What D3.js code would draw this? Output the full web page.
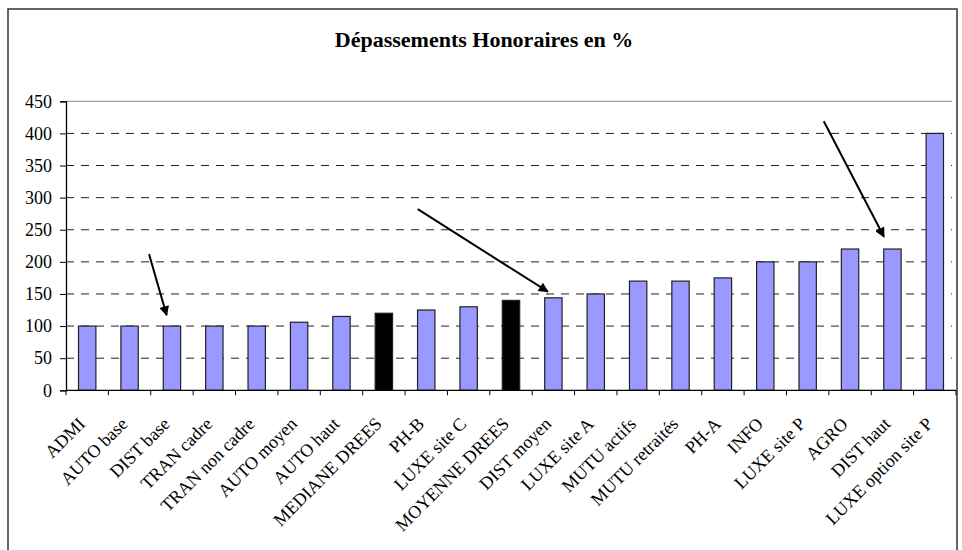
<!DOCTYPE html>
<html lang="fr">
<head>
    <meta charset="UTF-8">
    <title>Dépassements Honoraires en %</title>
    <script src="https://d3js.org/d3.v7.min.js"></script>
    <style>
        body { margin: 0; background: #fff; }
        .grid line { stroke: #222; stroke-dasharray: 8, 7; }
    </style>
</head>
<body>
    <div id="chart"></div>
    <script type="text/javascript">
        // chart data
        const categories = ["ADMI", "AUTO base", "DIST base", "TRAN cadre", "TRAN non cadre",
            "AUTO moyen", "AUTO haut", "MEDIANE DREES", "PH-B", "LUXE site C", "MOYENNE DREES",
            "DIST moyen", "LUXE site A", "MUTU actifs", "MUTU retraités", "PH-A", "INFO",
            "LUXE site P", "AGRO", "DIST haut", "LUXE option site P"];
        const values = [100, 100, 100, 100, 100, 106, 115, 120, 125, 130, 140,
            144, 150, 170, 170, 175, 200, 200, 220, 220, 400];
        const highlighted = ["MEDIANE DREES", "MOYENNE DREES"];
        const yTicks = [0, 50, 100, 150, 200, 250, 300, 350, 400, 450];
        // arrows in data units: [from slot, from value, to slot, to value]
        const arrows = [
            [1.96, 212, 2.375, 117],
            [8.3, 282, 11.37, 153.5],
            [17.88, 419, 19.3, 239]
        ];
        const title = "Dépassements Honoraires en %";

        const serif = '"Liberation Serif", "Times New Roman", "DejaVu Serif", serif';
        const width = 962, height = 550;
        const plot = {left: 66, right: 956, top: 101.3, bottom: 390.3};

        const svg = d3.select("#chart").append("svg")
            .attr("width", width)
            .attr("height", height);

        svg.append("rect")
            .attr("width", width).attr("height", height)
            .attr("fill", "#fff");

        // outer frame
        svg.append("rect")
            .attr("x", 8).attr("y", 9)
            .attr("width", 949).attr("height", 600)
            .attr("fill", "none")
            .attr("stroke", "#333")
            .attr("stroke-width", 1.5);

        svg.append("text")
            .attr("x", 484).attr("y", 47)
            .attr("text-anchor", "middle")
            .style("font-family", serif)
            .style("font-size", "22px")
            .style("font-weight", "bold")
            .text(title);

        const x = d3.scaleBand()
            .domain(categories)
            .range([plot.left, plot.right])
            .paddingInner(0.59)
            .paddingOuter(0.295);
        const slot = d3.scaleLinear().domain([0, categories.length]).range([plot.left, plot.right]);
        const y = d3.scaleLinear().domain([0, 450]).range([plot.bottom, plot.top]);

        // dashed gridlines (top one solid grey)
        svg.append("g")
            .attr("class", "grid")
            .selectAll("line")
            .data(yTicks.filter(d => d > 0))
            .enter().append("line")
            .attr("x1", plot.left).attr("x2", plot.right - 4)
            .attr("y1", d => y(d)).attr("y2", d => y(d))
            .style("stroke", d => d === 450 ? "#888" : null)
            .style("stroke-dasharray", d => d === 450 ? "none" : null);

        // y axis
        const yAxis = svg.append("g")
            .attr("transform", "translate(" + plot.left + ",0)")
            .call(d3.axisLeft(y).tickValues(yTicks).tickSize(6).tickPadding(8).tickFormat(d3.format("d")));
        yAxis.select(".domain").attr("stroke", "#000").attr("stroke-width", 1.3);
        yAxis.selectAll(".tick line").attr("stroke", "#000");
        yAxis.selectAll("text")
            .style("font-family", serif)
            .style("font-size", "18px")
            .style("fill", "#000");

        // bars
        svg.selectAll(".bar")
            .data(categories)
            .enter().append("rect")
            .attr("class", "bar")
            .attr("x", d => x(d))
            .attr("y", (d, i) => y(values[i]))
            .attr("width", x.bandwidth())
            .attr("height", (d, i) => y(0) - y(values[i]))
            .attr("fill", d => highlighted.includes(d) ? "#000" : "#9999ff")
            .attr("stroke", "#222")
            .attr("stroke-width", 1.2);

        // x axis with ticks on category boundaries
        svg.append("line")
            .attr("x1", plot.left).attr("x2", plot.right)
            .attr("y1", y(0)).attr("y2", y(0))
            .attr("stroke", "#000").attr("stroke-width", 1.3);
        svg.selectAll(".xtick")
            .data(d3.range(categories.length + 1))
            .enter().append("line")
            .attr("class", "xtick")
            .attr("x1", d => slot(d)).attr("x2", d => slot(d))
            .attr("y1", y(0)).attr("y2", y(0) + 5)
            .attr("stroke", "#000");

        svg.selectAll(".xlabel")
            .data(categories)
            .enter().append("text")
            .attr("class", "xlabel")
            .attr("text-anchor", "end")
            .attr("transform", d => "translate(" + (x(d) + x.bandwidth() / 2 - 1) + "," + 425 + ") rotate(-45)")
            .style("font-family", serif)
            .style("font-size", "18px")
            .style("fill", "#000")
            .text(d => d);

        // arrows
        const defs = svg.append("defs");
        defs.append("marker")
            .attr("id", "head")
            .attr("viewBox", "0 0 10 10")
            .attr("refX", 9).attr("refY", 5)
            .attr("markerWidth", 6).attr("markerHeight", 5)
            .attr("markerUnits", "strokeWidth")
            .attr("orient", "auto")
            .append("path")
            .attr("d", "M0,0 L10,5 L0,10 Z")
            .attr("fill", "#000");

        svg.selectAll(".arrow")
            .data(arrows)
            .enter().append("line")
            .attr("class", "arrow")
            .attr("x1", d => slot(d[0])).attr("y1", d => y(d[1]))
            .attr("x2", d => slot(d[2])).attr("y2", d => y(d[3]))
            .attr("stroke", "#000")
            .attr("stroke-width", 2)
            .attr("marker-end", "url(#head)");
    </script>
</body>
</html>
